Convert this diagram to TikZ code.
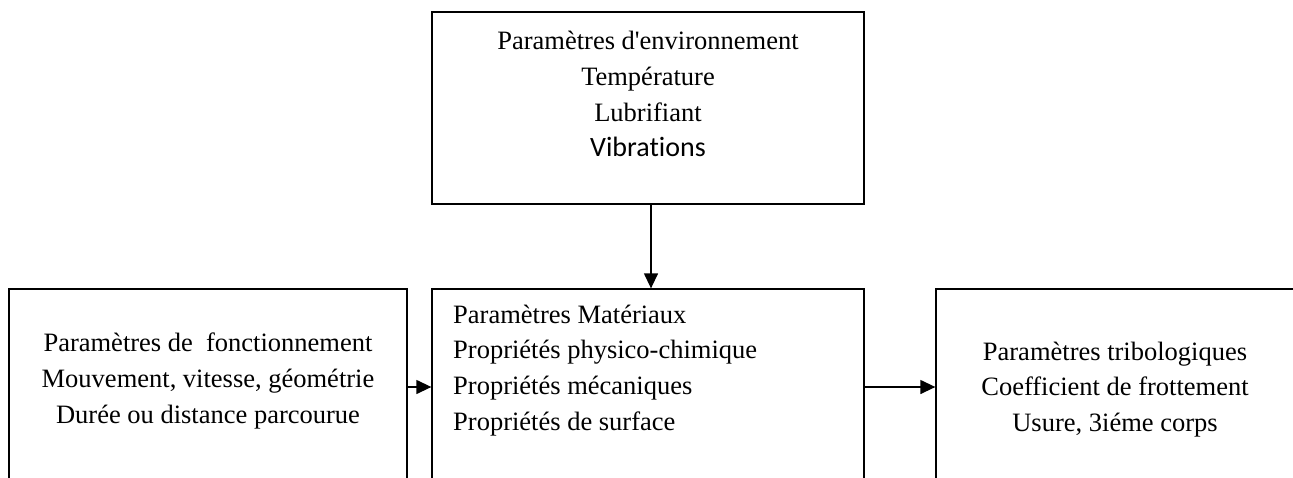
\documentclass[tikz,border=0pt]{standalone}
\usepackage{fontspec}
\setmainfont{Liberation Serif}
\newfontfamily\calibri[Ligatures=NoCommon]{Carlito}
\usetikzlibrary{arrows.meta}
\begin{document}
\begin{tikzpicture}[x=1pt,y=-1pt,
  box/.style={draw,line width=1.3pt,minimum width=#1,inner sep=0pt,rectangle},
  txt/.style={inner sep=0pt,font=\fontsize{26.5}{35.8}\selectfont},
  conn/.style={line width=1.3pt,-{Triangle[length=15pt,width=14pt]}}]
\useasboundingbox (0,0) rectangle (1293,477);
\clip (0,0) rectangle (1293,477);
% boxes
\node[box=432pt,minimum height=192pt] (env) at (648,108) {};
\node[box=398pt,minimum height=240pt] (fonc) at (208,409) {};
\node[box=432pt,minimum height=240pt] (mat) at (648,409) {};
\node[box=358pt,minimum height=240pt] (trib) at (1115,409) {};
% texts
\node[txt,align=center] (envt) at (648,94) {Paramètres d\textquotesingle environnement\\Température\\Lubrifiant\\{\calibri\fontsize{28}{35.8}\selectfont Vibrations}};
\node[txt,align=center] (fonct) at (208,381) {Paramètres de\ \ fonctionnement\\Mouvement, vitesse, géométrie\\Durée ou distance parcourue};
\node[txt,align=left,anchor=west] (matt) at (453,370.5) {Paramètres Matériaux\\Propriétés physico-chimique\\Propriétés mécaniques\\Propriétés de surface};
\node[txt,align=center] (tribt) at (1115,389.5) {Paramètres tribologiques\\Coefficient de frottement\\Usure, 3iéme corps};
% connectors
\draw[conn] (env.south -| 651,0) -- (mat.north -| 651,0);
\draw[conn] (fonc.east |- 0,387) -- (mat.west |- 0,387);
\draw[conn] (mat.east |- 0,387) -- (trib.west |- 0,387);
\end{tikzpicture}
\end{document}
